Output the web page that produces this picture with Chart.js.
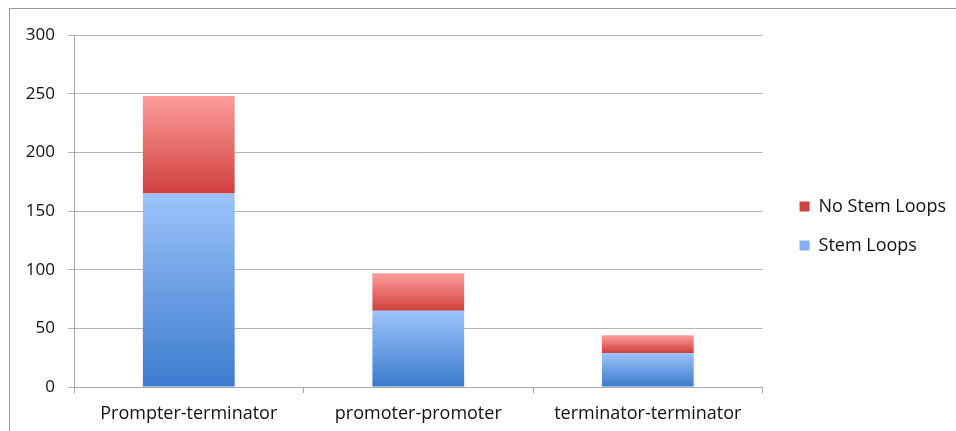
<!DOCTYPE html>
<html><head><meta charset="utf-8">
<script src="https://cdn.jsdelivr.net/npm/chart.js@4"></script>
<style>
html,body{margin:0;padding:0;overflow:hidden;background:#fff;width:956px;height:431px;}
#frame{position:absolute;left:9px;top:8px;width:1000px;height:500px;border-top:1.5px solid #9c9c9c;border-left:1.5px solid #9c9c9c;}
#wrap{position:absolute;left:0;top:0;width:956px;height:431px;}
</style></head><body>
<div id="frame"></div>
<div id="wrap"><canvas id="c"></canvas></div>
<script>
const categories = ['Prompter-terminator', 'promoter-promoter', 'terminator-terminator'];
const stemLoops = [165, 65, 29];
const noStemLoops = [83, 32, 15];
const seriesNames = ['Stem Loops', 'No Stem Loops'];
const yMin = 0, yMax = 300, yStep = 50;

const stacks = [stemLoops, noStemLoops];
const FONT = "'Open Sans', sans-serif";

function gradFill(seriesIndex, topColor, bottomColor, solid) {
  return function (ctx) {
    if (ctx.type !== 'data') return solid;
    const chart = ctx.chart;
    const y = chart.scales && chart.scales.y;
    if (!y || !chart.chartArea) return solid;
    let base = 0;
    for (let k = 0; k < seriesIndex; k++) base += stacks[k][ctx.dataIndex];
    const v = stacks[seriesIndex][ctx.dataIndex];
    const yTop = y.getPixelForValue(base + v);
    const yBot = y.getPixelForValue(base);
    if (!isFinite(yTop) || !isFinite(yBot) || yTop === yBot) return solid;
    const g = chart.ctx.createLinearGradient(0, yTop, 0, yBot);
    g.addColorStop(0, topColor);
    g.addColorStop(1, bottomColor);
    return g;
  };
}

const LEGEND_GAP = 16, LEGEND_DY = -7;
const legendShift = {
  id: 'legendShift',
  beforeLayout(chart) {
    const lg = chart.legend;
    if (lg && !lg._patched) {
      const orig = lg.fit;
      lg.fit = function () { orig.apply(this, arguments); this.width += LEGEND_GAP; };
      lg._patched = true;
    }
  },
  afterLayout(chart) {
    const lg = chart.legend;
    if (lg) {
      lg.left += LEGEND_GAP; lg.width -= LEGEND_GAP;
      lg.top += LEGEND_DY; lg.bottom += LEGEND_DY;
    }
  }
};

new Chart(document.getElementById('c'), {
  type: 'bar',
  data: {
    labels: categories,
    datasets: [
      {
        label: seriesNames[0],
        data: stemLoops,
        backgroundColor: gradFill(0, '#9cc3fb', '#3b7bcd', '#6198e2'),
        borderWidth: 0,
        categoryPercentage: 1,
        barPercentage: 0.4
      },
      {
        label: seriesNames[1],
        data: noStemLoops,
        backgroundColor: gradFill(1, '#fd9d9b', '#cf403e', '#e4625f'),
        borderWidth: 0,
        categoryPercentage: 1,
        barPercentage: 0.4
      }
    ]
  },
  options: {
    responsive: true,
    maintainAspectRatio: false,
    animation: false,
    devicePixelRatio: 1,
    layout: { padding: { top: 35, right: 0, bottom: 0, left: 0 } },
    plugins: {
      tooltip: { enabled: false },
      title: { display: false },
      legend: {
        position: 'right',
        reverse: true,
        align: 'center',
        labels: {
          boxWidth: 10,
          boxHeight: 10,
          padding: 21,
          color: '#111',
          font: { family: FONT, size: 18 }
        }
      }
    },
    scales: {
      x: {
        stacked: true,
        offset: true,
        afterFit(s) { s.height = 44; },
        grid: {
          display: true,
          drawOnChartArea: false,
          drawTicks: true,
          tickLength: 6,
          offset: true,
          color: '#a8a8a8'
        },
        border: { display: true, color: '#a8a8a8' },
        ticks: { color: '#111', padding: 10, font: { family: FONT, size: 18 } }
      },
      y: {
        stacked: true,
        min: yMin,
        max: yMax,
        afterFit(s) { s.width = 74; },
        grid: { color: '#b4b4b4', tickLength: 6, drawTicks: true },
        border: { display: true, color: '#a8a8a8' },
        ticks: { stepSize: yStep, color: '#111', padding: 13, font: { family: FONT, size: 17 } }
      }
    }
  },
  plugins: [legendShift]
});
</script>
</body></html>
